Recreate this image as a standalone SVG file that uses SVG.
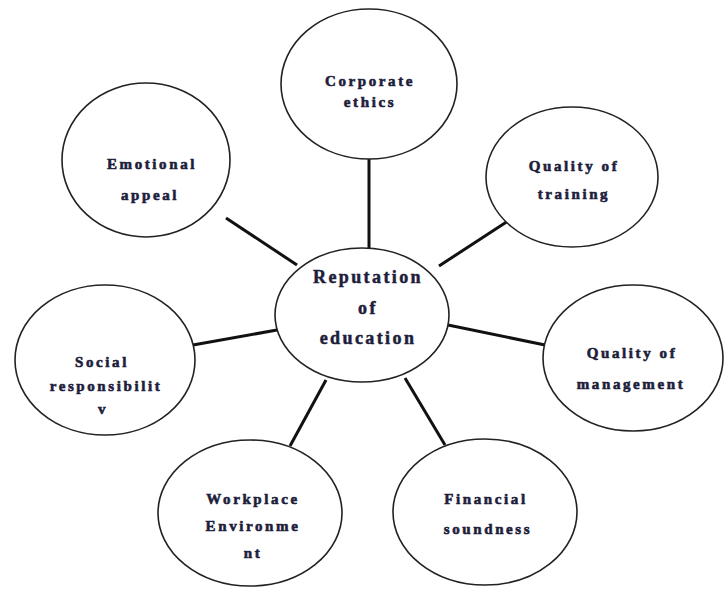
<svg xmlns="http://www.w3.org/2000/svg" width="728" height="589" viewBox="0 0 728 589">
<style>
.n{fill:#fff;stroke:#222;stroke-width:1.6}
.t{font-family:"Liberation Serif","Times New Roman",serif;font-weight:bold;font-size:15px;letter-spacing:2.6px;fill:#1e1e3c;stroke:#1e1e3c;stroke-width:0.6px;text-anchor:middle}
.big{font-size:18px;letter-spacing:2.4px;stroke-width:0.5px}
.c{stroke:#111;stroke-width:3;fill:none}
</style>
<rect width="728" height="589" fill="#fff"/>
<g id="connectors">
<line class="c" x1="369" y1="159" x2="369" y2="249"/>
<line class="c" x1="226" y1="218" x2="297" y2="265"/>
<line class="c" x1="508" y1="221" x2="439" y2="266"/>
<line class="c" x1="193" y1="345" x2="277" y2="330"/>
<line class="c" x1="448" y1="325" x2="545" y2="345"/>
<line class="c" x1="326" y1="380" x2="290" y2="446"/>
<line class="c" x1="405" y1="378" x2="445" y2="445"/>
</g>
<g id="corporate-ethics">
<ellipse class="n" cx="369" cy="84" rx="88" ry="75"/>
<text class="t" x="370" y="86">Corporate</text>
<text class="t" x="370" y="107">ethics</text>
</g>
<g id="emotional-appeal">
<ellipse class="n" cx="146" cy="160" rx="84" ry="77"/>
<text class="t" x="152" y="169">Emotional</text>
<text class="t" x="150" y="200">appeal</text>
</g>
<g id="quality-of-training">
<ellipse class="n" cx="572" cy="177" rx="86" ry="70"/>
<text class="t" x="574" y="171">Quality of</text>
<text class="t" x="574" y="199">training</text>
</g>
<g id="reputation">
<ellipse class="n" cx="362" cy="315" rx="87" ry="67"/>
<text class="t big" x="368" y="283">Reputation</text>
<text class="t big" x="368" y="314">of</text>
<text class="t big" x="368" y="344">education</text>
</g>
<g id="social-responsibility">
<ellipse class="n" cx="105" cy="360" rx="90" ry="75"/>
<text class="t" x="102" y="367">Social</text>
<text class="t" x="106" y="391">responsibilit</text>
<text class="t" x="103" y="414">v</text>
</g>
<g id="quality-of-management">
<ellipse class="n" cx="633" cy="358" rx="90" ry="73"/>
<text class="t" x="632" y="358">Quality of</text>
<text class="t" x="631" y="389">management</text>
</g>
<g id="workplace-environment">
<ellipse class="n" cx="250" cy="513" rx="92" ry="73"/>
<text class="t" x="253" y="504">Workplace</text>
<text class="t" x="253" y="531">Environme</text>
<text class="t" x="253" y="558">nt</text>
</g>
<g id="financial-soundness">
<ellipse class="n" cx="485" cy="512" rx="92" ry="73"/>
<text class="t" x="486" y="504">Financial</text>
<text class="t" x="488" y="534">soundness</text>
</g>
</svg>
